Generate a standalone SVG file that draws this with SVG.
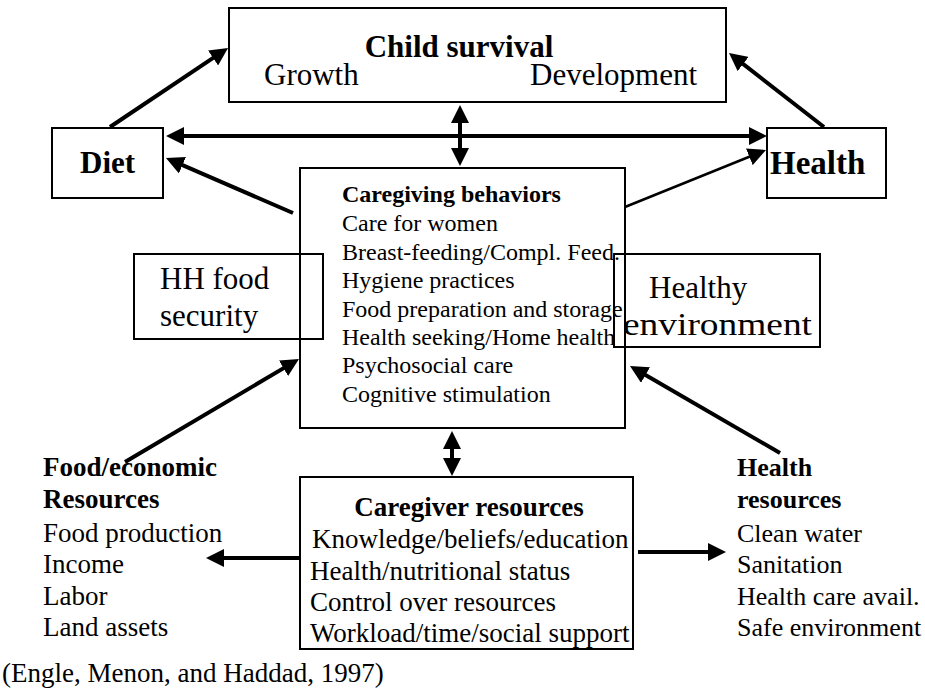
<svg xmlns="http://www.w3.org/2000/svg" width="925" height="690" viewBox="0 0 925 690">
<style>
.box{fill:none;stroke:#000;stroke-width:2}
.t{font-family:"Liberation Serif","Times New Roman",serif;fill:#000}
.b{font-weight:bold}
.big{font-size:31px}
.mid{font-size:24px}
.sm{font-size:27px}
.rs{font-size:26px}
.con{stroke:#000;stroke-width:4;fill:none;marker-end:url(#ah)}
.dbl{marker-start:url(#ah)}
</style>
<defs>
<marker id="ah" markerUnits="userSpaceOnUse" markerWidth="18" markerHeight="18" viewBox="0 0 18 18" refX="10" refY="9" orient="auto-start-reverse">
<path d="M0,0 L18,9 L0,18 z" fill="#000"/>
</marker>
</defs>
<rect width="925" height="690" fill="#fff"/>
<g id="child-survival">
<rect class="box" x="229" y="8" width="497" height="94"/>
<text class="t b big" x="459" y="57" text-anchor="middle">Child survival</text>
<text class="t big" x="264" y="85">Growth</text>
<text class="t big" x="530" y="85">Development</text>
</g>
<g id="diet">
<rect class="box" x="52" y="128" width="111" height="70"/>
<text class="t b" font-size="31" x="80" y="173">Diet</text>
</g>
<g id="health">
<rect class="box" x="767" y="128" width="119" height="70"/>
<text class="t b" font-size="33" x="770" y="174">Health</text>
</g>
<g id="caregiving-behaviors">
<rect class="box" x="300" y="168" width="325" height="260"/>
<text class="t b mid" x="342" y="202">Caregiving behaviors</text>
<text class="t mid" x="342" y="231">Care for women</text>
<text class="t mid" x="342" y="260">Breast-feeding/Compl. Feed.</text>
<text class="t mid" x="342" y="288">Hygiene practices</text>
<text class="t mid" x="342" y="317">Food preparation and storage</text>
<text class="t mid" x="342" y="345">Health seeking/Home health</text>
<text class="t mid" x="342" y="373">Psychosocial care</text>
<text class="t mid" x="342" y="402">Cognitive stimulation</text>
</g>
<g id="hh-food-security">
<rect class="box" x="134" y="254" width="189" height="85"/>
<text class="t big" x="160" y="289">HH food</text>
<text class="t big" x="160" y="326">security</text>
</g>
<g id="healthy-environment">
<rect class="box" x="614" y="254" width="206" height="93"/>
<text class="t big" x="649" y="298">Healthy</text>
<text class="t big" x="623" y="335" textLength="189" lengthAdjust="spacingAndGlyphs">environment</text>
</g>
<g id="caregiver-resources">
<rect class="box" x="300" y="477" width="333" height="172"/>
<text class="t b sm" x="469" y="516" text-anchor="middle">Caregiver resources</text>
<text class="t sm" x="312" y="548">Knowledge/beliefs/education</text>
<text class="t sm" x="310" y="580">Health/nutritional status</text>
<text class="t sm" x="310" y="611">Control over resources</text>
<text class="t sm" x="310" y="642">Workload/time/social support</text>
</g>
<g id="food-economic-resources">
<text class="t b sm" x="43" y="476">Food/economic</text>
<text class="t b sm" x="43" y="508">Resources</text>
<text class="t sm" x="43" y="542">Food production</text>
<text class="t sm" x="43" y="573">Income</text>
<text class="t sm" x="43" y="605">Labor</text>
<text class="t sm" x="43" y="636">Land assets</text>
</g>
<g id="health-resources">
<text class="t b rs" x="737" y="476">Health</text>
<text class="t b rs" x="737" y="508">resources</text>
<text class="t rs" x="737" y="542">Clean water</text>
<text class="t rs" x="737" y="573">Sanitation</text>
<text class="t rs" x="737" y="605">Health care avail.</text>
<text class="t rs" x="737" y="636">Safe environment</text>
</g>
<g id="citation">
<text class="t sm" x="2" y="682">(Engle, Menon, and Haddad, 1997)</text>
</g>
<g id="connectors">
<path class="con" d="M110,127 L221.4,52.4"/>
<path class="con" d="M824,127 L735.3,57.9"/>
<path class="con dbl" d="M174,136 L759,136"/>
<path class="con dbl" d="M460,113 L460,158"/>
<path class="con" d="M293,213 L173.3,161.2"/>
<path class="con" style="stroke-width:2.5" d="M625,207 L758.6,153"/>
<path class="con" d="M125,462 L292.1,363.1"/>
<path class="con" d="M780,453 L636.9,370"/>
<path class="con dbl" d="M452,439 L452,468"/>
<path class="con" d="M300,558 L214,558"/>
<path class="con" d="M638,552 L718,552"/>
</g>
</svg>
